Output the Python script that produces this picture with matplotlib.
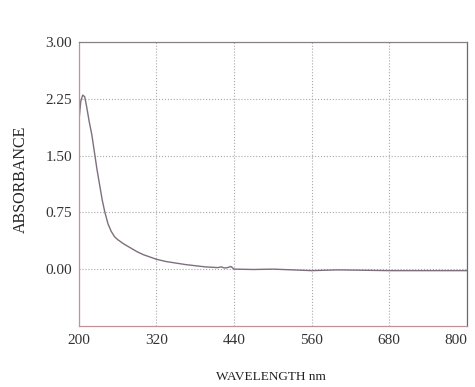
import matplotlib.pyplot as plt

plt.rcParams['font.family'] = ['Liberation Serif', 'DejaVu Serif']

# scan readings (nm, absorbance)
wavelength = [200, 203, 206, 209, 212, 216, 220, 224, 228, 232, 236, 240, 245, 250,
              255, 260, 270, 280, 290, 300, 310, 320, 335, 350, 365, 380, 395,
              405, 415, 420, 425, 430, 435, 440, 470, 500, 530, 560, 600, 640,
              680, 720, 760, 800]
absorbance = [1.95, 2.22, 2.30, 2.28, 2.15, 1.95, 1.78, 1.55, 1.32, 1.12, 0.92, 0.76,
              0.60, 0.50, 0.43, 0.39, 0.33, 0.28, 0.23, 0.19, 0.16, 0.13, 0.10,
              0.08, 0.06, 0.045, 0.03, 0.025, 0.02, 0.03, 0.015, 0.02, 0.035, 0.0,
              -0.005, 0.0, -0.01, -0.02, -0.01, -0.015, -0.02, -0.02, -0.02, -0.02]

x_ticks = [200, 320, 440, 560, 680, 800]
y_ticks = [0.00, 0.75, 1.50, 2.25, 3.00]

fig = plt.figure(figsize=(4.75, 3.87), dpi=100)
ax = fig.add_axes([0.166, 0.158, 0.817, 0.733])

ax.plot(wavelength, absorbance, color='#7d6f7d', lw=1.0)

ax.set_xlim(200, 800)
ax.set_ylim(-0.75, 3.00)
ax.set_xticks(x_ticks)
ax.set_yticks(y_ticks)
ax.set_yticklabels(['%.2f' % v for v in y_ticks])
ax.tick_params(length=0, labelsize=11, colors='#333333')
ax.tick_params(axis='y', pad=5)
ax.tick_params(axis='x', pad=6)
# keep the last wavelength label inside the figure
ax.get_xticklabels()[-1].set_ha('right')

ax.grid(True, ls=':', color='#a8a8a8', lw=0.8)
ax.spines['left'].set_color('#c4909a')
ax.spines['bottom'].set_color('#c4909a')
ax.spines['top'].set_color('#8a8088')
ax.spines['right'].set_color('#6e6670')
for s in ax.spines.values():
    s.set_linewidth(0.9)

ax.set_xlabel('WAVELENGTH nm', fontsize=9.5, color='#222222')
ax.xaxis.set_label_coords(0.495, -0.16)
ax.set_ylabel('ABSORBANCE', fontsize=11.5, color='#222222')
ax.yaxis.set_label_coords(-0.128, 0.518)

fig.savefig('out.png', dpi=100)
